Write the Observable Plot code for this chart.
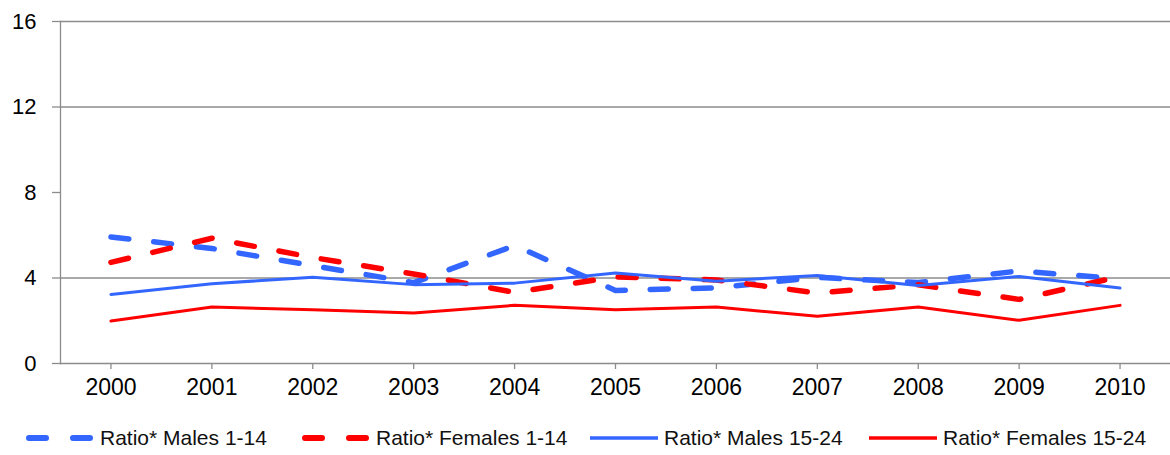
<!DOCTYPE html>
<html>
<head>
<meta charset="utf-8">
<script src="https://cdn.jsdelivr.net/npm/d3@7"></script>
<script src="https://cdn.jsdelivr.net/npm/@observablehq/plot@0.6"></script>
<style>
  html, body { margin: 0; padding: 0; background: #fff; }
  body { font-family: "Liberation Sans", Arial, sans-serif; }
  #wrap { position: relative; width: 1170px; height: 455px; overflow: hidden; }
  #legend { position: absolute; left: 0; top: 410px; width: 1170px; height: 45px; }
  .item { position: absolute; top: 0; height: 56px; display: flex; align-items: center; font-size: 21px; color: #111; white-space: nowrap; }
  .item svg { margin-right: 6px; }
</style>
</head>
<body>
<div id="wrap"><div id="chart"></div><div id="legend"></div></div>
<script>
const years = [2000, 2001, 2002, 2003, 2004, 2005, 2006, 2007, 2008, 2009, 2010];
const malesChild   = [5.92, 5.38, 4.58, 3.78, 5.52, 3.42, 3.54, 4.03, 3.79, 4.33, 3.96];
const femalesChild = [4.73, 5.86, 4.96, 4.19, 3.33, 4.05, 3.91, 3.30, 3.68, 3.00, 4.07];
const malesYouth   = [3.23, 3.73, 4.04, 3.69, 3.76, 4.23, 3.85, 4.12, 3.65, 4.07, 3.53];
const femalesYouth = [1.99, 2.64, 2.52, 2.36, 2.72, 2.52, 2.64, 2.21, 2.64, 2.02, 2.72];
const seriesNames = ["Ratio* Males 1-14", "Ratio* Females 1-14", "Ratio* Males 15-24", "Ratio* Females 15-24"];
const yTicks = [0, 4, 8, 12, 16];
const gridTicks = [4, 12, 16];

const BLUE = "#3366ff", RED = "#ff0000", GREY = "#8c8c8c";
const styles = [
  {stroke: BLUE, strokeWidth: 5.5, strokeDasharray: "18,25", strokeLinecap: "round"},
  {stroke: RED,  strokeWidth: 5.5, strokeDasharray: "18,25", strokeLinecap: "round"},
  {stroke: BLUE, strokeWidth: 3},
  {stroke: RED,  strokeWidth: 3}
];
const allSeries = [malesChild, femalesChild, malesYouth, femalesYouth];
const tables = allSeries.map((vals, i) => years.map((yr, j) => ({year: yr, value: vals[j], series: seriesNames[i]})));

const chart = Plot.plot({
  width: 1170,
  height: 410,
  marginLeft: 60,
  marginRight: 0,
  marginTop: 21,
  marginBottom: 47,
  style: {fontFamily: "'Liberation Sans', Arial, sans-serif", background: "#fff", overflow: "visible"},
  x: {type: "point", domain: years, padding: 0.5, round: false, label: null},
  y: {domain: [0, 16], label: null},
  marks: [
    Plot.ruleY(gridTicks, {stroke: GREY, strokeWidth: 1.3}),
    Plot.ruleY([0], {stroke: GREY, strokeWidth: 1.3}),
    Plot.frame({anchor: "left", stroke: GREY, strokeWidth: 1.3}),
    Plot.axisY(yTicks, {tickSize: 8, tickPadding: 16, fontSize: 22, color: "#000", stroke: GREY, strokeWidth: 1.3, label: null}),
    Plot.axisX({tickSize: 6, tickPadding: 9, fontSize: 23, color: "#000", stroke: GREY, strokeWidth: 1.3, label: null, tickFormat: d => String(d)}),
    ...tables.map((t, i) => Plot.line(t, {x: "year", y: "value", curve: "linear", ...styles[i]}))
  ]
});
document.getElementById("chart").appendChild(chart);

// legend below the plot
const legendLefts = [26, 302, 590, 869];
const legend = document.getElementById("legend");
seriesNames.forEach((name, i) => {
  const item = document.createElement("div");
  item.className = "item";
  item.style.left = legendLefts[i] + "px";
  const s = styles[i];
  const dashed = !!s.strokeDasharray;
  item.innerHTML =
    `<svg width="68" height="10"><line x1="${dashed ? 3 : 0}" y1="5" x2="${dashed ? 65 : 68}" y2="5" stroke="${s.stroke}" stroke-width="${dashed ? 6 : 3.5}"` +
    (dashed ? ` stroke-dasharray="17,27" stroke-linecap="round"` : "") + `/></svg><span>${name}</span>`;
  legend.appendChild(item);
});
</script>
</body>
</html>
